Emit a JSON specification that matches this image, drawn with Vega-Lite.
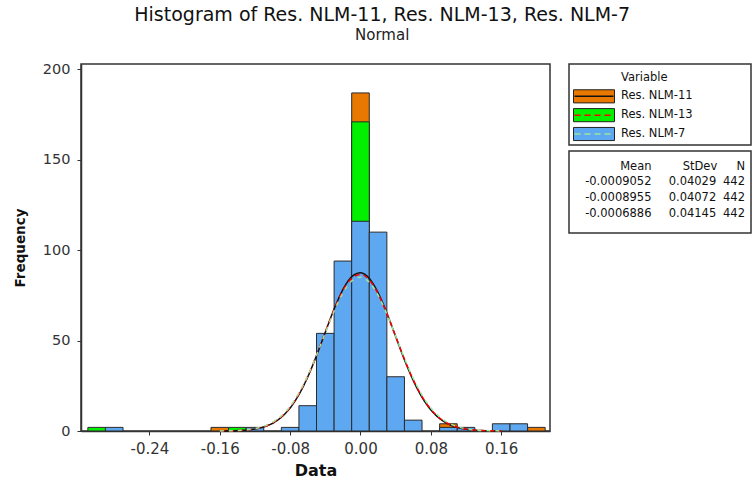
{
  "$schema": "https://vega.github.io/schema/vega-lite/v6.json",
  "background": "white",
  "padding": {"left": 12, "top": 5, "right": 0, "bottom": 0},
  "config": {
    "font": "DejaVu Sans",
    "locale": {"number": {"decimal": ".", "thousands": ",", "grouping": [3], "currency": ["$", ""], "minus": "-"}},
    "view": {"stroke": null},
    "axis": {
      "grid": false,
      "domainColor": "#333",
      "domainWidth": 1.5,
      "tickColor": "#333",
      "tickWidth": 1,
      "tickSize": 4,
      "labelFont": "DejaVu Sans",
      "labelColor": "#333",
      "titleFont": "DejaVu Sans",
      "titleFontWeight": "bold",
      "titleColor": "#111"
    }
  },
  "title": {
    "text": "Histogram of Res. NLM-11, Res. NLM-13, Res. NLM-7",
    "subtitle": "Normal",
    "font": "DejaVu Sans",
    "fontSize": 19,
    "fontWeight": "normal",
    "color": "#111",
    "subtitleFont": "DejaVu Sans",
    "subtitleFontSize": 15,
    "subtitleColor": "#222",
    "subtitlePadding": 3,
    "anchor": "middle",
    "offset": 18
  },
  "datasets": {
    "bars": [
      {"variable": "Res. NLM-11", "bin_start": -0.17, "bin_end": -0.15, "count": 2},
      {"variable": "Res. NLM-11", "bin_start": -0.01, "bin_end": 0.01, "count": 187},
      {"variable": "Res. NLM-11", "bin_start": 0.09, "bin_end": 0.11, "count": 4},
      {"variable": "Res. NLM-11", "bin_start": 0.19, "bin_end": 0.21, "count": 2},
      {"variable": "Res. NLM-13", "bin_start": -0.31, "bin_end": -0.29, "count": 2},
      {"variable": "Res. NLM-13", "bin_start": -0.15, "bin_end": -0.13, "count": 2},
      {"variable": "Res. NLM-13", "bin_start": -0.01, "bin_end": 0.01, "count": 171},
      {"variable": "Res. NLM-7", "bin_start": -0.29, "bin_end": -0.27, "count": 2},
      {"variable": "Res. NLM-7", "bin_start": -0.13, "bin_end": -0.11, "count": 2},
      {"variable": "Res. NLM-7", "bin_start": -0.09, "bin_end": -0.07, "count": 2},
      {"variable": "Res. NLM-7", "bin_start": -0.07, "bin_end": -0.05, "count": 14},
      {"variable": "Res. NLM-7", "bin_start": -0.05, "bin_end": -0.03, "count": 54},
      {"variable": "Res. NLM-7", "bin_start": -0.03, "bin_end": -0.01, "count": 94},
      {"variable": "Res. NLM-7", "bin_start": -0.01, "bin_end": 0.01, "count": 116},
      {"variable": "Res. NLM-7", "bin_start": 0.01, "bin_end": 0.03, "count": 110},
      {"variable": "Res. NLM-7", "bin_start": 0.03, "bin_end": 0.05, "count": 30},
      {"variable": "Res. NLM-7", "bin_start": 0.05, "bin_end": 0.07, "count": 6},
      {"variable": "Res. NLM-7", "bin_start": 0.09, "bin_end": 0.11, "count": 2},
      {"variable": "Res. NLM-7", "bin_start": 0.11, "bin_end": 0.13, "count": 2},
      {"variable": "Res. NLM-7", "bin_start": 0.15, "bin_end": 0.17, "count": 4},
      {"variable": "Res. NLM-7", "bin_start": 0.17, "bin_end": 0.19, "count": 4}
    ],
    "curves": [
      {"variable": "Res. NLM-11", "x": -0.16, "y": 0.04},
      {"variable": "Res. NLM-11", "x": -0.15, "y": 0.09},
      {"variable": "Res. NLM-11", "x": -0.14, "y": 0.23},
      {"variable": "Res. NLM-11", "x": -0.13, "y": 0.52},
      {"variable": "Res. NLM-11", "x": -0.12, "y": 1.11},
      {"variable": "Res. NLM-11", "x": -0.11, "y": 2.24},
      {"variable": "Res. NLM-11", "x": -0.10, "y": 4.25},
      {"variable": "Res. NLM-11", "x": -0.09, "y": 7.59},
      {"variable": "Res. NLM-11", "x": -0.08, "y": 12.74},
      {"variable": "Res. NLM-11", "x": -0.07, "y": 20.12},
      {"variable": "Res. NLM-11", "x": -0.06, "y": 29.86},
      {"variable": "Res. NLM-11", "x": -0.05, "y": 41.66},
      {"variable": "Res. NLM-11", "x": -0.04, "y": 54.67},
      {"variable": "Res. NLM-11", "x": -0.03, "y": 67.44},
      {"variable": "Res. NLM-11", "x": -0.02, "y": 78.23},
      {"variable": "Res. NLM-11", "x": -0.01, "y": 85.33},
      {"variable": "Res. NLM-11", "x": 0.00, "y": 87.51},
      {"variable": "Res. NLM-11", "x": 0.01, "y": 84.38},
      {"variable": "Res. NLM-11", "x": 0.02, "y": 76.51},
      {"variable": "Res. NLM-11", "x": 0.03, "y": 65.22},
      {"variable": "Res. NLM-11", "x": 0.04, "y": 52.28},
      {"variable": "Res. NLM-11", "x": 0.05, "y": 39.40},
      {"variable": "Res. NLM-11", "x": 0.06, "y": 27.92},
      {"variable": "Res. NLM-11", "x": 0.07, "y": 18.61},
      {"variable": "Res. NLM-11", "x": 0.08, "y": 11.66},
      {"variable": "Res. NLM-11", "x": 0.09, "y": 6.87},
      {"variable": "Res. NLM-11", "x": 0.10, "y": 3.80},
      {"variable": "Res. NLM-11", "x": 0.11, "y": 1.98},
      {"variable": "Res. NLM-11", "x": 0.12, "y": 0.97},
      {"variable": "Res. NLM-11", "x": 0.13, "y": 0.45},
      {"variable": "Res. NLM-11", "x": 0.14, "y": 0.19},
      {"variable": "Res. NLM-11", "x": 0.15, "y": 0.08},
      {"variable": "Res. NLM-11", "x": 0.16, "y": 0.03},
      {"variable": "Res. NLM-13", "x": -0.16, "y": 0.04},
      {"variable": "Res. NLM-13", "x": -0.15, "y": 0.11},
      {"variable": "Res. NLM-13", "x": -0.14, "y": 0.25},
      {"variable": "Res. NLM-13", "x": -0.13, "y": 0.57},
      {"variable": "Res. NLM-13", "x": -0.12, "y": 1.20},
      {"variable": "Res. NLM-13", "x": -0.11, "y": 2.39},
      {"variable": "Res. NLM-13", "x": -0.10, "y": 4.48},
      {"variable": "Res. NLM-13", "x": -0.09, "y": 7.91},
      {"variable": "Res. NLM-13", "x": -0.08, "y": 13.13},
      {"variable": "Res. NLM-13", "x": -0.07, "y": 20.52},
      {"variable": "Res. NLM-13", "x": -0.06, "y": 30.21},
      {"variable": "Res. NLM-13", "x": -0.05, "y": 41.86},
      {"variable": "Res. NLM-13", "x": -0.04, "y": 54.63},
      {"variable": "Res. NLM-13", "x": -0.03, "y": 67.09},
      {"variable": "Res. NLM-13", "x": -0.02, "y": 77.58},
      {"variable": "Res. NLM-13", "x": -0.01, "y": 84.47},
      {"variable": "Res. NLM-13", "x": 0.00, "y": 86.59},
      {"variable": "Res. NLM-13", "x": 0.01, "y": 83.56},
      {"variable": "Res. NLM-13", "x": 0.02, "y": 75.92},
      {"variable": "Res. NLM-13", "x": 0.03, "y": 64.95},
      {"variable": "Res. NLM-13", "x": 0.04, "y": 52.30},
      {"variable": "Res. NLM-13", "x": 0.05, "y": 39.66},
      {"variable": "Res. NLM-13", "x": 0.06, "y": 28.30},
      {"variable": "Res. NLM-13", "x": 0.07, "y": 19.03},
      {"variable": "Res. NLM-13", "x": 0.08, "y": 12.04},
      {"variable": "Res. NLM-13", "x": 0.09, "y": 7.17},
      {"variable": "Res. NLM-13", "x": 0.10, "y": 4.02},
      {"variable": "Res. NLM-13", "x": 0.11, "y": 2.12},
      {"variable": "Res. NLM-13", "x": 0.12, "y": 1.06},
      {"variable": "Res. NLM-13", "x": 0.13, "y": 0.49},
      {"variable": "Res. NLM-13", "x": 0.14, "y": 0.22},
      {"variable": "Res. NLM-13", "x": 0.15, "y": 0.09},
      {"variable": "Res. NLM-13", "x": 0.16, "y": 0.04},
      {"variable": "Res. NLM-7", "x": -0.16, "y": 0.05},
      {"variable": "Res. NLM-7", "x": -0.15, "y": 0.13},
      {"variable": "Res. NLM-7", "x": -0.14, "y": 0.30},
      {"variable": "Res. NLM-7", "x": -0.13, "y": 0.66},
      {"variable": "Res. NLM-7", "x": -0.12, "y": 1.35},
      {"variable": "Res. NLM-7", "x": -0.11, "y": 2.63},
      {"variable": "Res. NLM-7", "x": -0.10, "y": 4.82},
      {"variable": "Res. NLM-7", "x": -0.09, "y": 8.35},
      {"variable": "Res. NLM-7", "x": -0.08, "y": 13.64},
      {"variable": "Res. NLM-7", "x": -0.07, "y": 21.02},
      {"variable": "Res. NLM-7", "x": -0.06, "y": 30.57},
      {"variable": "Res. NLM-7", "x": -0.05, "y": 41.93},
      {"variable": "Res. NLM-7", "x": -0.04, "y": 54.26},
      {"variable": "Res. NLM-7", "x": -0.03, "y": 66.26},
      {"variable": "Res. NLM-7", "x": -0.02, "y": 76.33},
      {"variable": "Res. NLM-7", "x": -0.01, "y": 82.96},
      {"variable": "Res. NLM-7", "x": 0.00, "y": 85.07},
      {"variable": "Res. NLM-7", "x": 0.01, "y": 82.30},
      {"variable": "Res. NLM-7", "x": 0.02, "y": 75.12},
      {"variable": "Res. NLM-7", "x": 0.03, "y": 64.69},
      {"variable": "Res. NLM-7", "x": 0.04, "y": 52.55},
      {"variable": "Res. NLM-7", "x": 0.05, "y": 40.28},
      {"variable": "Res. NLM-7", "x": 0.06, "y": 29.13},
      {"variable": "Res. NLM-7", "x": 0.07, "y": 19.88},
      {"variable": "Res. NLM-7", "x": 0.08, "y": 12.79},
      {"variable": "Res. NLM-7", "x": 0.09, "y": 7.77},
      {"variable": "Res. NLM-7", "x": 0.10, "y": 4.45},
      {"variable": "Res. NLM-7", "x": 0.11, "y": 2.41},
      {"variable": "Res. NLM-7", "x": 0.12, "y": 1.23},
      {"variable": "Res. NLM-7", "x": 0.13, "y": 0.59},
      {"variable": "Res. NLM-7", "x": 0.14, "y": 0.27},
      {"variable": "Res. NLM-7", "x": 0.15, "y": 0.12},
      {"variable": "Res. NLM-7", "x": 0.16, "y": 0.05}
    ],
    "stats": [
      {"variable": "Res. NLM-11", "Mean": -0.0009052, "StDev": 0.04029, "N": 442},
      {"variable": "Res. NLM-13", "Mean": -0.0008955, "StDev": 0.04072, "N": 442},
      {"variable": "Res. NLM-7", "Mean": -0.0006886, "StDev": 0.04145, "N": 442}
    ],
    "headers": [
      {"col": "Mean"},
      {"col": "StDev"},
      {"col": "N"}
    ]
  },
  "hconcat": [
    {
      "width": 469,
      "height": 367,
      "view": {"stroke": "#333", "strokeWidth": 1.5},
      "layer": [
        {
          "data": {"name": "bars"},
          "mark": {"type": "bar", "stroke": "#2a2a2a", "strokeWidth": 1},
          "encoding": {
            "x": {
              "field": "bin_start",
              "type": "quantitative",
              "title": "Data",
              "scale": {"domain": [-0.3178, 0.2155], "nice": false, "zero": false},
              "axis": {"values": [-0.24, -0.16, -0.08, 0, 0.08, 0.16], "format": ".2f", "labelFontSize": 15, "labelPadding": 6, "titleFontSize": 16, "titlePadding": 6}
            },
            "x2": {"field": "bin_end"},
            "y": {
              "field": "count",
              "type": "quantitative",
              "stack": null,
              "title": "Frequency",
              "scale": {"domain": [0, 203], "nice": false},
              "axis": {"values": [0, 50, 100, 150, 200], "labelFontSize": 14.5, "labelPadding": 7, "titleFontSize": 13.5, "titlePadding": 15}
            },
            "y2": {"datum": 0},
            "fill": {
              "field": "variable",
              "type": "nominal",
              "scale": {"domain": ["Res. NLM-11", "Res. NLM-13", "Res. NLM-7"], "range": ["#E87800", "#00F000", "#5EA8F2"]},
              "legend": null
            }
          }
        },
        {
          "data": {"name": "curves"},
          "mark": {"type": "line", "strokeWidth": 1.5, "interpolate": "monotone"},
          "encoding": {
            "x": {"field": "x", "type": "quantitative", "title": "Data"},
            "y": {"field": "y", "type": "quantitative", "title": "Frequency"},
            "stroke": {
              "field": "variable",
              "type": "nominal",
              "scale": {"domain": ["Res. NLM-11", "Res. NLM-13", "Res. NLM-7"], "range": ["#111111", "#FF0000", "#9CE69C"]},
              "legend": null
            },
            "strokeDash": {
              "field": "variable",
              "type": "nominal",
              "scale": {"domain": ["Res. NLM-11", "Res. NLM-13", "Res. NLM-7"], "range": [[1, 0], [5, 4], [4, 5]]},
              "legend": null
            }
          }
        }
      ]
    },
    {
      "spacing": 4,
      "vconcat": [
        {
          "width": 182,
          "height": 81,
          "view": {"stroke": "#333", "strokeWidth": 1.5},
          "data": {"name": "stats"},
          "layer": [
            {
              "data": {"values": [{"heading": "Variable"}]},
              "mark": {"type": "text", "align": "left", "baseline": "middle", "fontSize": 11.5, "color": "#111"},
              "encoding": {
                "x": {"datum": "label", "type": "nominal", "scale": {"type": "point", "padding": 0, "domain": ["swatch", "label"], "range": [25, 52]}, "axis": null},
                "y": {"field": "heading", "type": "nominal", "scale": {"type": "point", "padding": 0, "domain": ["Variable", "Res. NLM-11", "Res. NLM-13", "Res. NLM-7"], "range": [13.5, 70]}, "axis": null},
                "text": {"field": "heading"}
              }
            },
            {
              "mark": {"type": "point", "filled": true, "shape": "M-1,-0.32H1V0.32H-1Z", "size": 1681, "opacity": 1, "stroke": "#222", "strokeWidth": 1},
              "encoding": {
                "x": {"datum": "swatch", "type": "nominal"},
                "y": {"field": "variable", "type": "nominal"},
                "fill": {
                  "field": "variable",
                  "type": "nominal",
                  "scale": {"domain": ["Res. NLM-11", "Res. NLM-13", "Res. NLM-7"], "range": ["#E87800", "#00F000", "#5EA8F2"]},
                  "legend": null
                }
              }
            },
            {
              "mark": {"type": "point", "filled": false, "shape": "M-0.95,0H0.95", "size": 1681, "opacity": 1, "strokeWidth": 1.5},
              "encoding": {
                "x": {"datum": "swatch", "type": "nominal"},
                "y": {"field": "variable", "type": "nominal"},
                "stroke": {
                  "field": "variable",
                  "type": "nominal",
                  "scale": {"domain": ["Res. NLM-11", "Res. NLM-13", "Res. NLM-7"], "range": ["#111111", "#FF0000", "#9CE69C"]},
                  "legend": null
                },
                "strokeDash": {
                  "field": "variable",
                  "type": "nominal",
                  "scale": {"domain": ["Res. NLM-11", "Res. NLM-13", "Res. NLM-7"], "range": [[1, 0], [6, 4], [6, 4]]},
                  "legend": null
                }
              }
            },
            {
              "mark": {"type": "text", "align": "left", "baseline": "middle", "fontSize": 11.5, "color": "#111"},
              "encoding": {
                "x": {"datum": "label", "type": "nominal"},
                "y": {"field": "variable", "type": "nominal"},
                "text": {"field": "variable"}
              }
            }
          ]
        },
        {
          "width": 182,
          "height": 82,
          "view": {"stroke": "#333", "strokeWidth": 1.5},
          "data": {"name": "stats"},
          "layer": [
            {
              "data": {"name": "headers"},
              "transform": [{"filter": "datum.col != 'StDev'"}],
              "mark": {"type": "text", "align": "right", "baseline": "middle", "fontSize": 11.5, "color": "#111"},
              "encoding": {
                "x": {"field": "col", "type": "nominal", "scale": {"type": "point", "padding": 0, "domain": ["Mean", "StDev", "N"], "range": [82.5, 176]}, "axis": null},
                "y": {"datum": "header", "type": "nominal", "scale": {"type": "point", "padding": 0, "domain": ["header", "Res. NLM-11", "Res. NLM-13", "Res. NLM-7"], "range": [15.5, 63]}, "axis": null},
                "text": {"field": "col"}
              }
            },
            {
              "data": {"name": "headers"},
              "transform": [{"filter": "datum.col == 'StDev'"}],
              "mark": {"type": "text", "align": "right", "baseline": "middle", "fontSize": 11.5, "color": "#111", "dx": 19},
              "encoding": {
                "x": {"field": "col", "type": "nominal"},
                "y": {"datum": "header", "type": "nominal"},
                "text": {"field": "col"}
              }
            },
            {
              "mark": {"type": "text", "align": "right", "baseline": "middle", "fontSize": 11.5, "color": "#111"},
              "encoding": {
                "x": {"datum": "Mean", "type": "nominal"},
                "y": {"field": "variable", "type": "nominal"},
                "text": {"field": "Mean", "type": "quantitative", "format": ".7f"}
              }
            },
            {
              "mark": {"type": "text", "align": "right", "baseline": "middle", "fontSize": 11.5, "color": "#111", "dx": 18},
              "encoding": {
                "x": {"datum": "StDev", "type": "nominal"},
                "y": {"field": "variable", "type": "nominal"},
                "text": {"field": "StDev", "type": "quantitative", "format": ".5f"}
              }
            },
            {
              "mark": {"type": "text", "align": "right", "baseline": "middle", "fontSize": 11.5, "color": "#111"},
              "encoding": {
                "x": {"datum": "N", "type": "nominal"},
                "y": {"field": "variable", "type": "nominal"},
                "text": {"field": "N", "type": "quantitative", "format": "d"}
              }
            }
          ]
        }
      ]
    }
  ],
  "spacing": 17,
  "resolve": {"scale": {"x": "independent", "y": "independent", "fill": "independent", "stroke": "independent", "strokeDash": "independent"}}
}
